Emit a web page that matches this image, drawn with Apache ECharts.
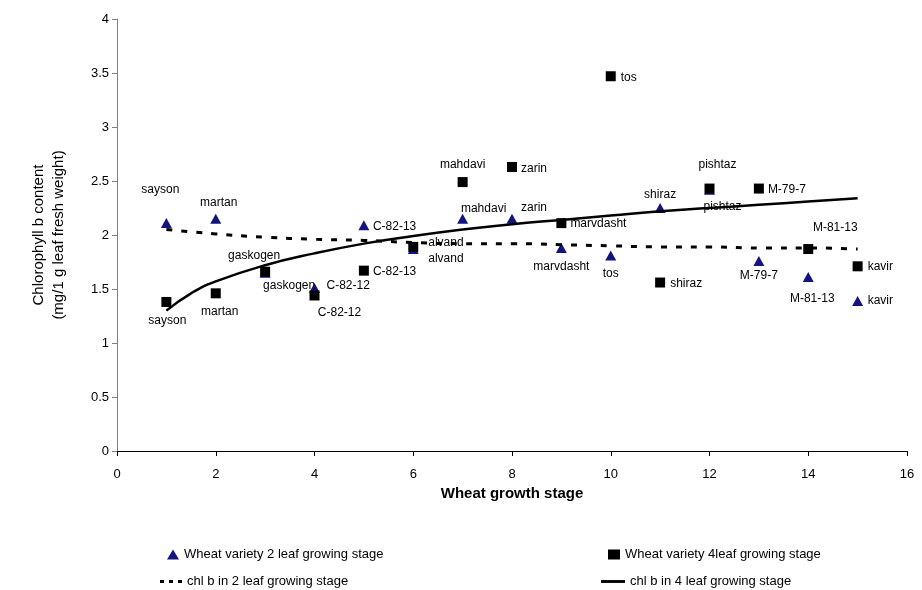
<!DOCTYPE html>
<html>
<head>
<meta charset="utf-8">
<script src="https://cdn.jsdelivr.net/npm/echarts@6/dist/echarts.min.js"></script>
<style>html,body{margin:0;padding:0;background:#fff}#c{width:922px;height:590px}</style>
</head>
<body>
<div id="c"></div>
<script>
// ---- data ----
const varieties = ['sayson','martan','gaskogen','C-82-12','C-82-13','alvand','mahdavi','zarin','marvdasht','tos','shiraz','pishtaz','M-79-7','M-81-13','kavir'];
const stages = [1,2,3,4,5,6,7,8,9,10,11,12,13,14,15];
const chl2leaf = [2.11,2.15,1.65,1.51,2.09,1.87,2.15,2.15,1.88,1.81,2.25,2.42,1.76,1.61,1.39];
const chl4leaf = [1.38,1.46,1.66,1.44,1.67,1.89,2.49,2.63,2.11,3.47,1.56,2.43,2.43,1.87,1.71];
// trend lines
const trendX = [1,1.5,2,3,4,5,6,7,8,9,10,11,12,13,14,15];
const trend2 = [2.05,2.03,2.01,1.98,1.96,1.95,1.93,1.92,1.92,1.91,1.90,1.89,1.89,1.88,1.88,1.87];
const trend4 = [1.30,1.46,1.57,1.72,1.83,1.92,1.99,2.05,2.10,2.14,2.18,2.22,2.25,2.28,2.31,2.34];
const xTicks = [0,2,4,6,8,10,12,14,16];
const yTicks = [0,0.5,1,1.5,2,2.5,3,3.5,4];

// ---- label placement (layout only) ----
const lab2 = [[-6,-33,'center'],[3,-16,'center'],[-11,-17,'center'],[12,-2,'left'],[9,1,'left'],[15,10,'left'],[21,-10,'center'],[22,-11,'center'],[0,19,'center'],[0,18,'center'],[0,-13,'center'],[13,17,'center'],[0,15,'center'],[4,22,'center'],[10,0,'left']];
const lab4 = [[1,19,'center'],[4,18,'center'],[24,14,'center'],[25,17,'center'],[9,1,'left'],[15,-4,'left'],[0,-17,'center'],[9,2,'left'],[9,1,'left'],[10,1,'left'],[10,1,'left'],[8,-24,'center'],[9,1,'left'],[27,-21,'center'],[10,0,'left']];

const FONT = 'Liberation Sans, Arial, sans-serif';
function pts(vals, labs) {
  return vals.map((v,i) => ({
    value: [stages[i], v],
    name: varieties[i],
    label: {offset: [labs[i][0], labs[i][1]], align: labs[i][2]}
  }));
}
const ptLabel = {show:true, position:'inside', formatter: p => p.name, color:'#000', fontSize:12, fontFamily:FONT, verticalAlign:'middle', opacity:1};

const N1 = 'Wheat variety 2 leaf growing stage';
const N2 = 'Wheat variety 4leaf growing stage';
const N3 = 'chl b in 2 leaf growing stage';
const N4 = 'chl b in 4 leaf growing stage';

const chart = echarts.init(document.getElementById('c'), null, {renderer:'canvas'});
const legBase = {orient:'horizontal', textStyle:{fontSize:13, fontFamily:FONT, color:'#000'}, itemGap:5, selectedMode:false};
chart.setOption({
  animation:false,
  backgroundColor:'#fff',
  grid:{left:117, right:15, top:19, bottom:139},
  legend:[
    Object.assign({}, legBase, {data:[N1], left:162, top:543, itemWidth:12, itemHeight:10}),
    Object.assign({}, legBase, {data:[N2], left:603, top:543, itemWidth:12, itemHeight:10}),
    Object.assign({}, legBase, {data:[{name:N3, icon:'path://M0,0h4v3h-4z M9,0h4v3h-4z M18,0h4v3h-4z'}], left:155, top:570, itemWidth:22, itemHeight:3, itemStyle:{color:'#000'}}),
    Object.assign({}, legBase, {data:[{name:N4, icon:'path://M0,0h25v3h-25z'}], left:596, top:570, itemWidth:24, itemHeight:3, itemStyle:{color:'#000'}})
  ],
  xAxis:{
    type:'value', min:xTicks[0], max:xTicks[xTicks.length-1], interval:2,
    name:'Wheat growth stage', nameLocation:'middle', nameGap:33,
    nameTextStyle:{fontSize:15, fontWeight:'bold', fontFamily:FONT, color:'#000'},
    axisLine:{show:true, onZero:false, lineStyle:{color:'#000', width:1}},
    axisTick:{show:true, inside:false, length:5, lineStyle:{color:'#000'}},
    axisLabel:{fontSize:13, fontFamily:FONT, color:'#000', margin:17},
    splitLine:{show:false}
  },
  yAxis:{
    type:'value', min:yTicks[0], max:yTicks[yTicks.length-1], interval:0.5,
    name:'Chlorophyll b content\n(mg/1 g leaf fresh weight)', nameLocation:'middle', nameGap:48,
    nameTextStyle:{fontSize:15, fontFamily:FONT, color:'#000', lineHeight:20},
    axisLine:{show:true, lineStyle:{color:'#808080', width:1}},
    axisTick:{show:true, inside:false, length:5, lineStyle:{color:'#808080'}},
    axisLabel:{fontSize:13, fontFamily:FONT, color:'#000', margin:8},
    splitLine:{show:false}
  },
  series:[
    {name:N1, type:'scatter', symbol:'triangle', symbolSize:[11,10], itemStyle:{color:'#14147f', opacity:1},
     data:pts(chl2leaf, lab2), label:ptLabel, z:2},
    {name:N2, type:'scatter', symbol:'rect', symbolSize:10, itemStyle:{color:'#000', opacity:1},
     data:pts(chl4leaf, lab4), label:ptLabel, z:3},
    {name:N3, type:'line', smooth:true, symbol:'none', z:4,
     lineStyle:{color:'#000', width:3, type:[6,9]}, itemStyle:{color:'#000'},
     data:trendX.map((x,i)=>[x, trend2[i]])},
    {name:N4, type:'line', smooth:true, symbol:'none', z:4,
     lineStyle:{color:'#000', width:2.5}, itemStyle:{color:'#000'},
     data:trendX.map((x,i)=>[x, trend4[i]])}
  ]
});
</script>
</body>
</html>
